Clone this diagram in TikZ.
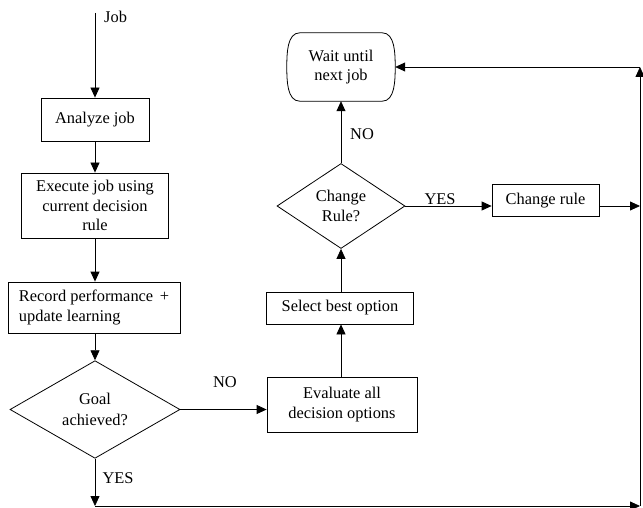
\documentclass[tikz,border=0pt]{standalone}
\usepackage{fontspec}
\setmainfont{Liberation Serif}
\usetikzlibrary{shapes.geometric,arrows.meta}
\begin{document}
\begin{tikzpicture}[x=1pt,y=-1pt,
  every node/.style={font=\fontsize{16.4}{19.5}\selectfont},
  box/.style={draw,line width=0.8pt,rectangle,inner sep=0pt,align=center},
  dec/.style={draw,line width=0.8pt,diamond,inner sep=0pt,align=center},
  lbl/.style={inner sep=0pt},
  conn/.style={line width=0.8pt,-{Triangle[length=10pt,width=9pt]}},
  plain/.style={line width=0.8pt}]
\useasboundingbox (0,0) rectangle (643,508);
% coordinates
\coordinate (jobstart) at (95,13);
\coordinate (tr) at (640,67);
\coordinate (br) at (640,506);
\coordinate (bl) at (95,506);
% nodes
\node[box,minimum width=108pt,minimum height=43pt] (analyze) at (95,119.5) {Analyze job};
\node[box,minimum width=147pt,minimum height=65pt] (execute) at (95,205.5) {Execute job using\\current decision\\rule};
\node[box,minimum width=172pt,minimum height=51pt,align=left] (record) at (94,307.5) {Record performance\hspace{0.15em} +\\update learning};
\node[dec,minimum width=170pt,minimum height=85pt] (goal) at (95,409.5) {Goal\\[1pt]achieved?};
\node[box,minimum width=150pt,minimum height=55pt] (eval) at (342,404.5) {Evaluate all\\decision options};
\node[box,minimum width=147pt,minimum height=32pt] (select) at (340,308) {Select best option};
\node[dec,minimum width=128pt,minimum height=85pt] (crule) at (341,206) {Change\\Rule?};
\node[box,minimum width=107pt,minimum height=32pt] (chg) at (545.5,200.5) {Change rule};
\node[inner sep=0pt,minimum width=108pt,minimum height=68pt,align=center] (wait) at (341,67) {Wait until\\next job};
\draw[line width=0.8pt] ([xshift=13pt]wait.north west) -- ([xshift=-13pt]wait.north east)
  to[out=0,in=90,looseness=0.9] (wait.east) to[out=-90,in=0,looseness=0.9] ([xshift=-13pt]wait.south east)
  -- ([xshift=13pt]wait.south west) to[out=180,in=-90,looseness=0.9] (wait.west) to[out=90,in=180,looseness=0.9] ([xshift=13pt]wait.north west) -- cycle;
% labels
\node[lbl,anchor=west] (joblbl) at (104,17) {Job};
\node[lbl] (nolbl1) at (225,382) {NO};
\node[lbl] (yeslbl1) at (118,478) {YES};
\node[lbl] (nolbl2) at (362,134) {NO};
\node[lbl] (yeslbl2) at (440,199) {YES};
% connectors
\draw[conn] (jobstart) -- (analyze.north);
\draw[conn] (analyze.south) -- (execute.north);
\draw[conn] (execute.south) -- (record.north -| execute.south);
\draw[conn] (record.south -| goal.north) -- (goal.north);
\draw[conn] (goal.east) -- (goal.east -| eval.west);
\draw[conn] (goal.south) -- (bl);
\draw[conn] (bl) -- (br);
\draw[conn] (eval.north -| 341,0) -- (select.south -| 341,0);
\draw[conn] (select.north -| 341,0) -- (crule.south);
\draw[conn] (crule.north) -- (wait.south);
\draw[conn] (crule.east) -- (crule.east -| chg.west);
\draw[conn] (chg.east |- crule.east) -- (crule.east -| br);
\draw[conn] (br) -- (tr);
\draw[conn] (tr) -- (tr -| wait.east);
\end{tikzpicture}
\end{document}
